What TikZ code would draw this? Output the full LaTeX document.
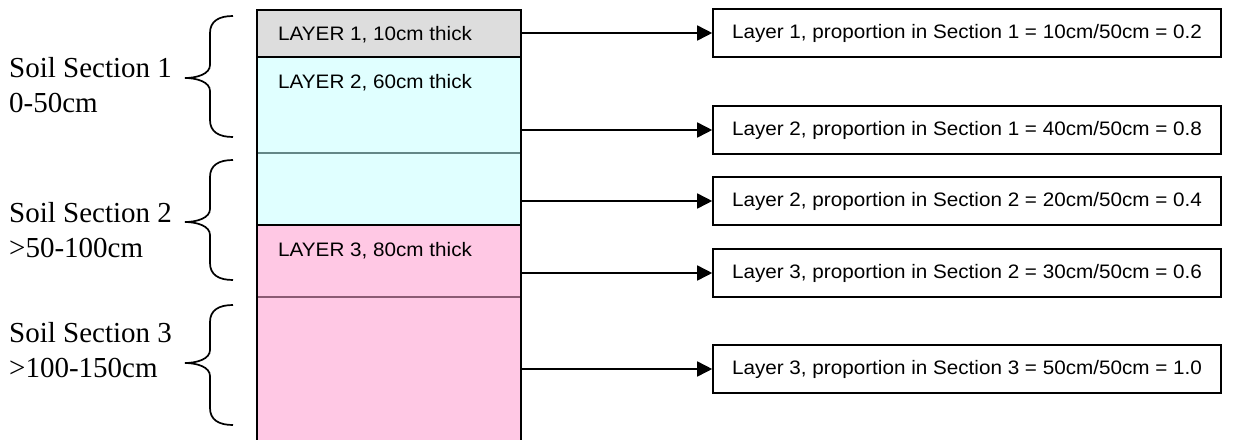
\documentclass[tikz,border=0pt]{standalone}
\usepackage{fontspec}
\setmainfont{Liberation Serif}
\newfontfamily\arialfont[FakeStretch=1.06]{Liberation Sans}
\usetikzlibrary{arrows.meta}
\definecolor{layergray}{RGB}{221,221,221}
\definecolor{layercyan}{RGB}{224,255,255}
\definecolor{layerpink}{RGB}{255,200,228}
\definecolor{cyanedge}{RGB}{100,135,135}
\definecolor{pinkedge}{RGB}{140,90,115}

% curly brace with top end, tip and bottom end given as y values
\newcommand\soilbrace[3]{%
  \draw[bracestyle] (233,#1) .. controls (219,#1) and (210,{#1+5}) .. (210,{#1+17})
    -- (210,{#2-13}) .. controls (210,{#2-4}) and (197,#2) .. (185,#2)
    .. controls (197,#2) and (210,{#2+4}) .. (210,{#2+13})
    -- (210,{#3-17}) .. controls (210,{#3-5}) and (219,#3) .. (233,#3);}

\begin{document}
\begin{tikzpicture}[x=1pt,y=-1pt,
  bracestyle/.style={line width=1.7pt},
  seclabel/.style={anchor=north west, inner sep=0pt, align=left,
    font=\fontsize{29}{35}\selectfont},
  layertext/.style={anchor=base west, inner sep=0pt,
    font=\arialfont\fontsize{19.5}{23}\selectfont},
  propbox/.style={draw, line width=1.6pt, minimum width=508pt, minimum height=48pt,
    inner sep=0pt, font=\arialfont\fontsize{19.5}{23}\selectfont},
  arr/.style={line width=1.6pt, -{Triangle[length=15pt,width=15pt]}},
  edge/.style={line width=2.2pt},
]
\useasboundingbox (0,0) rectangle (1244,439);

% soil column
\fill[layergray] (257,10) rectangle (521,57);
\fill[layercyan] (257,57) rectangle (521,225);
\fill[layerpink] (257,225) rectangle (521,445);
\draw[cyanedge, line width=1.3pt] (257,153) -- (521,153);
\draw[pinkedge, line width=1.3pt] (257,297) -- (521,297);
\draw[edge] (257,57) -- (521,57);
\draw[edge] (257,225) -- (521,225);
\draw[edge] (257,445) -- (257,10) -- (521,10) -- (521,445);

\node[layertext] (t1) at (278,40) {LAYER 1, 10cm thick};
\node[layertext] (t2) at (278,88) {LAYER 2, 60cm thick};
\node[layertext] (t3) at (278,256) {LAYER 3, 80cm thick};

% section labels and braces
\node[seclabel] (s1) at (9,57) {Soil Section 1\\0-50cm};
\node[seclabel] (s2) at (9,202) {Soil Section 2\\>50-100cm};
\node[seclabel] (s3) at (9,322) {Soil Section 3\\>100-150cm};
\soilbrace{16}{78}{137}
\soilbrace{160}{222}{280}
\soilbrace{305}{363}{425}

% proportion boxes
\node[propbox] (b1) at (967,33) {Layer 1, proportion in Section 1 = 10cm/50cm = 0.2};
\node[propbox] (b2) at (967,130) {Layer 2, proportion in Section 1 = 40cm/50cm = 0.8};
\node[propbox] (b3) at (967,201) {Layer 2, proportion in Section 2 = 20cm/50cm = 0.4};
\node[propbox] (b4) at (967,273) {Layer 3, proportion in Section 2 = 30cm/50cm = 0.6};
\node[propbox] (b5) at (967,369) {Layer 3, proportion in Section 3 = 50cm/50cm = 1.0};

% arrows from the column edge
\coordinate (c1) at (521,33);
\coordinate (c2) at (521,130);
\coordinate (c3) at (521,201);
\coordinate (c4) at (521,273);
\coordinate (c5) at (521,369);
\foreach \i in {1,...,5} {\draw[arr] (c\i) -- (b\i.west);}
\end{tikzpicture}
\end{document}
